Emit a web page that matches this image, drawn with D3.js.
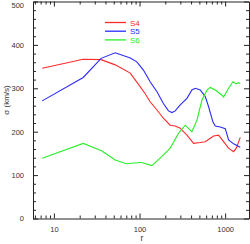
<!DOCTYPE html>
<html>
<head>
<meta charset="utf-8">
<script src="https://cdn.jsdelivr.net/npm/d3@7"></script>
<style>
  body { margin: 0; background: #fff; }
  svg { display: block; font-family: "Liberation Sans", Arial, sans-serif; }
  .axis path, .axis line { stroke: #222; stroke-width: 1; }
  .axis text { fill: #333; font-size: 7.5px; }
</style>
</head>
<body>
<div id="chart"></div>
<script>
var seriesNames = ['S4', 'S5', 'S6'];
var seriesColors = ['#ff2a2a', '#2a2aff', '#2aee2a'];

var s4R = [7.3, 22, 35.6, 52, 78, 101.6, 116, 133, 160, 190, 228, 261, 299, 358, 428, 512, 586, 733, 838, 959, 1097, 1256, 1350, 1503];
var s4V = [346, 367, 366, 354, 335, 304, 288, 269, 250, 231, 215, 213, 208, 192, 173, 175, 177, 190, 192, 177, 162, 154, 162, 187];

var s5R = [7.3, 22, 35.6, 52, 78, 93, 111, 133, 160, 190, 218, 239, 261, 299, 358, 409, 448, 512, 586, 640, 721, 767, 877, 1004, 1097, 1256, 1503];
var s5V = [271, 325, 369, 382, 370, 361, 342, 315, 292, 265, 248, 244, 248, 262, 277, 296, 300, 296, 281, 258, 222, 213, 211, 207, 181, 172, 164];

var s6R = [7.3, 22, 36, 52, 70, 101.6, 106, 139, 174, 228, 285, 342, 409, 469, 536, 614, 670, 767, 918, 959, 1097, 1236, 1350, 1436, 1503];
var s6V = [139, 173, 156, 135, 126, 129, 129, 122, 139, 162, 196, 215, 200, 227, 273, 296, 302, 296, 284, 280, 300, 315, 310, 313, 311];

var xMajor = [10, 100, 1000];
var xMinor = [6, 7, 8, 9, 20, 30, 40, 50, 60, 70, 80, 90, 200, 300, 400, 500, 600, 700, 800, 900];
var yMajor = [0, 100, 200, 300, 400, 500];
var yMinor = d3.range(0, 501, 20).filter(function(v) { return v % 100 !== 0; });

var width = 250, height = 244;
var plotLeft = 33, plotRight = 249, plotTop = 1.5, plotBottom = 218.5;

var svg = d3.select('#chart').append('svg')
  .attr('width', width)
  .attr('height', height);

var x = d3.scaleLog().domain([5.7, 1900]).range([plotLeft, plotRight]);
var y = d3.scaleLinear().domain([0, 500]).range([plotBottom, plotTop]);

function noText(g) { g.selectAll('text').remove(); g.select('.domain').remove(); }

// bottom
svg.append('g').attr('class', 'axis').attr('transform', 'translate(0,' + plotBottom + ')')
  .call(d3.axisBottom(x).tickValues(xMajor).tickSizeInner(-5).tickSizeOuter(0).tickPadding(8).tickFormat(d3.format('d')));
svg.append('g').attr('class', 'axis').attr('transform', 'translate(0,' + plotBottom + ')')
  .call(d3.axisBottom(x).tickValues(xMinor).tickSize(-3)).call(noText);
// top
svg.append('g').attr('class', 'axis').attr('transform', 'translate(0,' + plotTop + ')')
  .call(d3.axisTop(x).tickValues(xMajor).tickSizeInner(-5).tickSizeOuter(0)).selectAll('text').remove();
svg.append('g').attr('class', 'axis').attr('transform', 'translate(0,' + plotTop + ')')
  .call(d3.axisTop(x).tickValues(xMinor).tickSize(-3)).call(noText);
// left
var yAxisG = svg.append('g').attr('class', 'axis').attr('transform', 'translate(' + plotLeft + ',0)')
  .call(d3.axisLeft(y).tickValues(yMajor).tickSizeInner(-5).tickSizeOuter(0).tickPadding(9));
// keep the top label inside the window
yAxisG.selectAll('.tick text').filter(function(d) { return d === 500; }).attr('dy', '0.75em');
svg.append('g').attr('class', 'axis').attr('transform', 'translate(' + plotLeft + ',0)')
  .call(d3.axisLeft(y).tickValues(yMinor).tickSize(-3)).call(noText);
// right
svg.append('g').attr('class', 'axis').attr('transform', 'translate(' + plotRight + ',0)')
  .call(d3.axisRight(y).tickValues(yMajor).tickSizeInner(-5).tickSizeOuter(0)).selectAll('text').remove();
svg.append('g').attr('class', 'axis').attr('transform', 'translate(' + plotRight + ',0)')
  .call(d3.axisRight(y).tickValues(yMinor).tickSize(-3)).call(noText);

// axis titles
svg.append('text')
  .attr('x', (plotLeft + plotRight) / 2 + 1).attr('y', 241)
  .attr('text-anchor', 'middle').attr('fill', '#333').attr('font-size', 8.5)
  .text('r');
svg.append('text')
  .attr('transform', 'translate(9,' + ((plotTop + plotBottom) / 2 - 10) + ') rotate(-90)')
  .attr('text-anchor', 'middle').attr('fill', '#333').attr('font-size', 8)
  .text('σ (km/s)');

// curves
var allR = [s4R, s5R, s6R];
var allV = [s4V, s5V, s6V];
var line = d3.line()
  .x(function(d) { return x(d[0]); })
  .y(function(d) { return y(d[1]); });

seriesNames.forEach(function(name, i) {
  var pts = d3.zip(allR[i], allV[i]);
  svg.append('path')
    .datum(pts)
    .attr('fill', 'none')
    .attr('stroke', seriesColors[i])
    .attr('stroke-width', 1.1)
    .attr('d', line);
});

// legend
var legend = svg.append('g');
seriesNames.forEach(function(name, i) {
  var ly = 22.5 + i * 8.7;
  legend.append('line')
    .attr('x1', 105).attr('x2', 126)
    .attr('y1', ly).attr('y2', ly)
    .attr('stroke', seriesColors[i]).attr('stroke-width', 1.3);
  legend.append('text')
    .attr('x', 130).attr('y', ly + 3)
    .attr('fill', seriesColors[i]).attr('font-size', 8)
    .text(name);
});
</script>
</body>
</html>
